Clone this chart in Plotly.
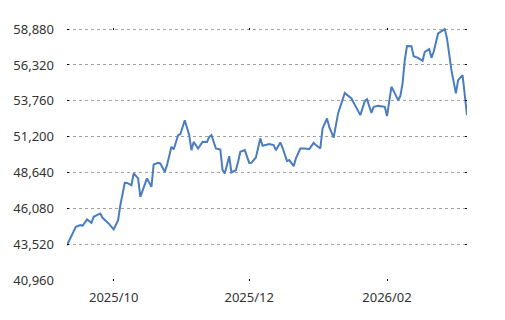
import plotly.graph_objects as go

dates = [
    "2025-09-10", "2025-09-12", "2025-09-14", "2025-09-16", "2025-09-17", "2025-09-19",
    "2025-09-21", "2025-09-22", "2025-09-23", "2025-09-25", "2025-09-26", "2025-09-28",
    "2025-09-29", "2025-10-01", "2025-10-02", "2025-10-03", "2025-10-04", "2025-10-06",
    "2025-10-07", "2025-10-09", "2025-10-10", "2025-10-12", "2025-10-13", "2025-10-15",
    "2025-10-16", "2025-10-18", "2025-10-19", "2025-10-21", "2025-10-22", "2025-10-24",
    "2025-10-25", "2025-10-27", "2025-10-28", "2025-10-30", "2025-10-31", "2025-11-02",
    "2025-11-04", "2025-11-05", "2025-11-06", "2025-11-08", "2025-11-10", "2025-11-12",
    "2025-11-13", "2025-11-14", "2025-11-16", "2025-11-18", "2025-11-19", "2025-11-20",
    "2025-11-22", "2025-11-23", "2025-11-25", "2025-11-26", "2025-11-27", "2025-11-29",
    "2025-12-01", "2025-12-02", "2025-12-04", "2025-12-06", "2025-12-07", "2025-12-10",
    "2025-12-12", "2025-12-13", "2025-12-15", "2025-12-16", "2025-12-18", "2025-12-19",
    "2025-12-21", "2025-12-22", "2025-12-24", "2025-12-26", "2025-12-28", "2025-12-30",
    "2025-12-31", "2026-01-02", "2026-01-03", "2026-01-05", "2026-01-06", "2026-01-08",
    "2026-01-10", "2026-01-13", "2026-01-15", "2026-01-16", "2026-01-18", "2026-01-20",
    "2026-01-22", "2026-01-23", "2026-01-25", "2026-01-26", "2026-01-28", "2026-01-31",
    "2026-02-01", "2026-02-03", "2026-02-04", "2026-02-06", "2026-02-07", "2026-02-08",
    "2026-02-09", "2026-02-10", "2026-02-12", "2026-02-13", "2026-02-15", "2026-02-17",
    "2026-02-18", "2026-02-20", "2026-02-21", "2026-02-22", "2026-02-24", "2026-02-26",
    "2026-02-27", "2026-02-28", "2026-03-02", "2026-03-04", "2026-03-05", "2026-03-07",
    "2026-03-08", "2026-03-09",
]

values = [
    43460, 44170, 44770, 44890, 44840, 45290,
    45050, 45480, 45580, 45720, 45410, 45120,
    44960, 44580, 44890, 45240, 46310, 47910,
    47900, 47740, 48580, 48220, 46910, 47740,
    48220, 47620, 49220, 49330, 49290, 48690,
    49170, 50480, 50290, 51310, 51380, 52380,
    51310, 50240, 50830, 50360, 50830, 50820,
    51190, 51310, 50360, 50290, 48810, 48580,
    49810, 48650, 48810, 49410, 50120, 50240,
    49330, 49340, 49720, 51080, 50550, 50670,
    50600, 50240, 50790, 50410, 49460, 49530,
    49100, 49650, 50360, 50350, 50310, 50760,
    50600, 50360, 51790, 52500, 51900, 51130,
    52880, 54330, 54100, 53930, 53330, 52740,
    53740, 53880, 52900, 53330, 53400, 53330,
    52670, 54760, 54470, 53810, 54100, 55000,
    56670, 57670, 57660, 56950, 56830, 56620,
    57260, 57450, 56830, 57260, 58570, 58810,
    58880, 58220, 55950, 54290, 55240, 55600,
    53900, 52740,
]

y_ticks = [40960, 43520, 46080, 48640, 51200, 53760, 56320, 58880]
y_tick_labels = ["40,960", "43,520", "46,080", "48,640", "51,200", "53,760", "56,320", "58,880"]

fig = go.Figure()
fig.add_trace(go.Scatter(
    x=dates, y=values, mode="lines",
    line=dict(color="#4a7dbf", width=2),
    showlegend=False, hoverinfo="x+y",
))

font = dict(family="Noto Sans, Open Sans, sans-serif", size=13, color="#333333")

fig.update_layout(
    width=505, height=320,
    margin=dict(l=67, r=38, t=28, b=39),
    paper_bgcolor="white", plot_bgcolor="white",
    font=font,
    xaxis=dict(
        type="date",
        range=["2025-09-10", "2026-03-09"],
        tick0="2025-10-01", dtick="M2", tickformat="%Y/%m",
        showgrid=False, zeroline=False, showline=False,
        ticks="inside", ticklen=2, tickcolor="#000000", mirror="ticks",
        ticklabelstandoff=7,
        tickfont=font,
    ),
    yaxis=dict(
        range=[40900, 58960],
        tickmode="array", tickvals=y_ticks, ticktext=y_tick_labels,
        showgrid=True, gridcolor="#a0a0a0", griddash="dot", gridwidth=1,
        zeroline=False, showline=False,
        ticks="inside", ticklen=2, tickcolor="#000000", mirror="ticks",
        ticklabelstandoff=12,
        tickfont=font,
    ),
)

fig.write_html("out.html")
